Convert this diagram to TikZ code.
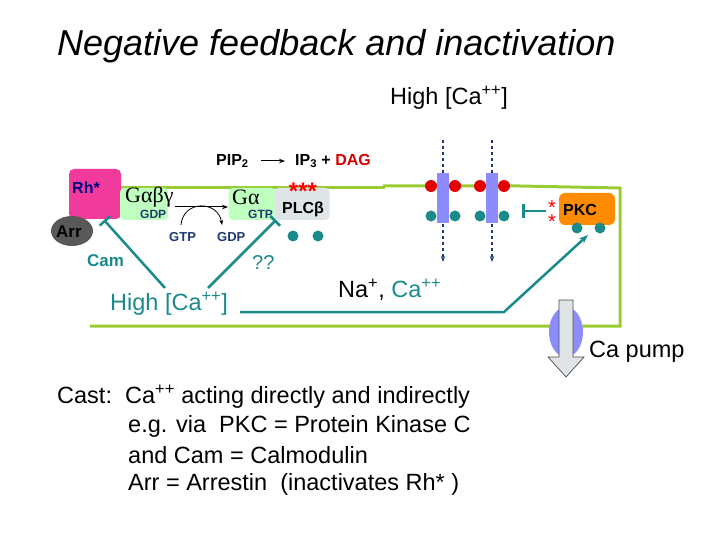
\documentclass[tikz,border=0pt]{standalone}
\usepackage{fontspec}
\setmainfont{Liberation Sans}
\newfontfamily\serifg{Liberation Serif}
\usetikzlibrary{arrows.meta,shapes.geometric}
\definecolor{mem}{HTML}{99CC33}
\definecolor{teal1}{HTML}{1A8A8A}
\definecolor{dblue}{HTML}{1F3A6E}
\begin{document}
\begin{tikzpicture}[x=1pt,y=-1pt,
  lbl/.style={inner sep=0pt,anchor=west},
  body/.style={inner sep=0pt,anchor=west,font=\fontsize{23.5}{27}\selectfont},
  tdot/.style={circle,fill=teal1,minimum size=11pt,inner sep=0pt},
  rdot/.style={circle,fill=red!90!black,minimum size=12pt,inner sep=0pt},
  inh/.style={draw=teal1,line width=2.5pt,-{Bar[width=14pt]}},
  chan/.style={fill=blue!45!white,minimum width=12pt,minimum height=50pt,inner sep=0pt},
  dsh/.style={draw=dblue,dashed,line width=1.2pt,-{Stealth[length=6pt]}}]
\useasboundingbox (0,0) rectangle (720,540);
% membrane
\draw[mem,line width=3pt] (120,188) -- (385,188);
\draw[mem,line width=3pt] (383,186) -- (520,186) -- (620,188) -- (620,326) -- (90,326);
% title
\node[lbl] (title) at (57,46) {\fontsize{36}{40}\selectfont\itshape Negative feedback and inactivation};
\node[body] (hca) at (390,98) {High [Ca\textsuperscript{++}]};
% Rh, Arr
\node[draw=none,fill=magenta!70!pink,rounded corners=5pt,minimum width=52pt,minimum height=50pt] (rh) at (95,194) {};
\node[lbl,text=blue!50!black] (rht) at (72,188) {\bfseries\fontsize{16}{18}\selectfont Rh*};
\node[ellipse,fill=gray!70!black,minimum width=42pt,minimum height=30pt,inner sep=0pt] (arr) at (72,231) {};
\node[lbl] (arrt) at (56,232) {\bfseries\fontsize{17}{19}\selectfont Arr};
% G proteins
\node[fill=green!25!white,rounded corners=4pt,minimum width=48pt,minimum height=32pt] (gabg) at (144,204) {};
\node[lbl] at (125,197) {\serifg\fontsize{22}{24}\selectfont Gαβγ};
\node[lbl,text=dblue] at (140,214) {\bfseries\fontsize{12}{14}\selectfont GDP};
\node[fill=green!25!white,rounded corners=4pt,minimum width=47pt,minimum height=32pt] (ga) at (252,204) {};
\node[lbl] at (232,197) {\serifg\fontsize{22}{24}\selectfont Gα};
\node[lbl,text=dblue] at (248,214) {\bfseries\fontsize{12}{14}\selectfont GTP};
\node[fill=cyan!15!gray!25,rounded corners=4pt,minimum width=55pt,minimum height=32pt] (plc) at (302,204) {};
\node[lbl] at (282,209) {\bfseries\fontsize{16}{18}\selectfont PLCβ};
\node[text=red,inner sep=0pt] (stars) at (303,191) {\bfseries\fontsize{24}{24}\selectfont ***};
\draw[-{Stealth[length=6pt]},line width=1pt] (175,207) -- (228,207);
\draw[-{Stealth[length=5pt]},line width=0.8pt] (181,225) .. controls (183,200) and (218,200) .. (222,225);
\node[lbl,text=dblue] (gtp) at (169,237) {\bfseries\fontsize{13}{15}\selectfont GTP};
\node[lbl,text=dblue] (gdp) at (217,237) {\bfseries\fontsize{13}{15}\selectfont GDP};
\node[tdot] (d1) at (293,236) {};
\node[tdot] (d2) at (318,236) {};
% PIP2
\node[lbl] (pip) at (216,161) {\bfseries\fontsize{16}{18}\selectfont PIP\textsubscript{2}};
\node[lbl] (ip) at (295,161) {\bfseries\fontsize{16}{18}\selectfont IP\textsubscript{3} + \textcolor{red!85!black}{DAG}};
\draw[-{Stealth[length=6pt]},line width=1pt] (261,161) -- (285,161);
% Cam, High Ca
\node[lbl,text=teal1] (cam) at (87,261) {\bfseries\fontsize{17}{19}\selectfont Cam};
\node[lbl,text=teal1] (qq) at (252,263) {\fontsize{20}{22}\selectfont ??};
\node[body,text=teal1] (hca2) at (110,304) {High [Ca\textsuperscript{++}]};
\coordinate (c1) at (165,288); \coordinate (r1) at (104,220);
\coordinate (c2) at (208,288); \coordinate (r2) at (276,220);
\draw[inh] (c1) -- (r1);
\draw[inh] (c2) -- (r2);
\coordinate (l1) at (240,312); \coordinate (l2) at (504,312); \coordinate (l3) at (588,235);
\draw[teal1,line width=2.5pt,-{Stealth[length=9pt]}] (l1) -- (l2) -- (l3);
\node[body] (na) at (338,290) {Na\textsuperscript{+}, \textcolor{teal1}{Ca\textsuperscript{++}}};
% channels
\foreach \x/\n in {443/a,492/b}{
  \draw[dsh] (\x,140) -- (\x,262);
  \node[chan] (ch\n) at (\x,198) {};
  \node[rdot] at (\x-12,186) {}; \node[rdot] at (\x+12,186) {};
  \node[tdot] at (\x-12,216) {}; \node[tdot] at (\x+12,216) {};
}
% PKC
\node[fill=orange!90!yellow,rounded corners=6pt,minimum width=56pt,minimum height=32pt] (pkc) at (587,209) {};
\node[lbl] at (563,210) {\bfseries\fontsize{16}{18}\selectfont PKC};
\node[text=red,inner sep=0pt] at (552,208) {\fontsize{20}{20}\selectfont *};
\node[text=red,inner sep=0pt] at (552,222) {\fontsize{20}{20}\selectfont *};
\node[tdot] (p1) at (577,228) {};
\node[tdot] (p2) at (600,228) {};
\coordinate (k1) at (546,211); \coordinate (k2) at (522,211);
\draw[inh] (k1) -- (k2);
% pump
\node[ellipse,fill=blue!45!white,minimum width=34pt,minimum height=50pt,inner sep=0pt] (pump) at (566,332) {};
\draw[draw=gray!60!black,fill=cyan!15!gray!25,line width=0.7pt] (559,300) -- (573,300) -- (573,357) -- (584,357) -- (566,377) -- (548,357) -- (559,357) -- cycle;
\node[body] (cp) at (589,352) {Ca pump};
% text
\node[body] at (57,397) {Cast:\ \ Ca\textsuperscript{++} acting directly and indirectly};
\node[body] at (128,426) {e.g. via\ \ PKC = Protein Kinase C};
\node[body] at (128,455) {and Cam = Calmodulin};
\node[body] at (128,484) {Arr = Arrestin\ \ (inactivates Rh* )};
\end{tikzpicture}
\end{document}
